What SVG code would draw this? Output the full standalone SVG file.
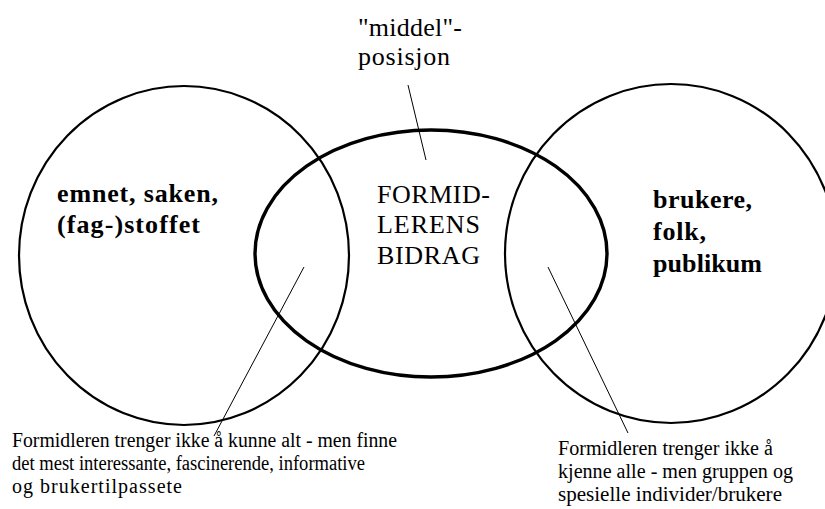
<svg xmlns="http://www.w3.org/2000/svg" width="825" height="509" viewBox="0 0 825 509">
  <style>
    .ring { fill: none; stroke: #000; stroke-width: 2.2; }
    .core { fill: none; stroke: #000; stroke-width: 3.4; }
    .lead { fill: none; stroke: #000; stroke-width: 1; }
    .t { font-family: "Liberation Serif", "Times New Roman", serif; fill: #000; }
    .big { font-size: 26px; }
    .bold { font-size: 26px; font-weight: bold; }
    .note { font-size: 20px; }
  </style>
  <rect width="825" height="509" fill="#fff"/>

  <g id="subject">
    <ellipse class="ring" cx="184" cy="255.5" rx="165" ry="169.5"/>
    <text class="t bold" x="57" y="202" textLength="161">emnet, saken,</text>
    <text class="t bold" x="57" y="233" textLength="143">(fag-)stoffet</text>
  </g>

  <g id="audience">
    <ellipse class="ring" cx="671" cy="253.5" rx="166" ry="169.5"/>
    <text class="t bold" x="653" y="208" textLength="99">brukere,</text>
    <text class="t bold" x="653" y="240" textLength="53">folk,</text>
    <text class="t bold" x="653" y="272" textLength="109">publikum</text>
  </g>

  <g id="mediator">
    <ellipse class="core" cx="431" cy="253.5" rx="176" ry="123.5"/>
    <text class="t big" x="377" y="203" textLength="113">FORMID-</text>
    <text class="t big" x="377" y="233" textLength="103">LERENS</text>
    <text class="t big" x="377" y="264" textLength="103">BIDRAG</text>
  </g>

  <g id="middle-label">
    <text class="t big" x="358" y="36" textLength="104">"middel"-</text>
    <text class="t big" x="358" y="65" textLength="92">posisjon</text>
  </g>

  <g id="left-note">
    <text class="t note" x="12" y="447" textLength="385" lengthAdjust="spacingAndGlyphs">Formidleren trenger ikke å kunne alt - men finne</text>
    <text class="t note" x="12" y="470" textLength="353" lengthAdjust="spacingAndGlyphs">det mest interessante, fascinerende, informative</text>
    <text class="t note" x="12" y="493" textLength="170">og brukertilpassete</text>
  </g>

  <g id="right-note">
    <text class="t note" x="558" y="455" textLength="215" lengthAdjust="spacingAndGlyphs">Formidleren trenger ikke å</text>
    <text class="t note" x="558" y="478" textLength="235" lengthAdjust="spacingAndGlyphs">kjenne alle - men gruppen og</text>
    <text class="t note" x="558" y="501" textLength="224" lengthAdjust="spacingAndGlyphs">spesielle individer/brukere</text>
  </g>

  <g id="connectors">
    <line class="lead" x1="408" y1="85" x2="426" y2="160"/>
    <line class="lead" x1="304" y1="267" x2="214" y2="436"/>
    <line class="lead" x1="548" y1="267" x2="628" y2="433"/>
  </g>
</svg>
